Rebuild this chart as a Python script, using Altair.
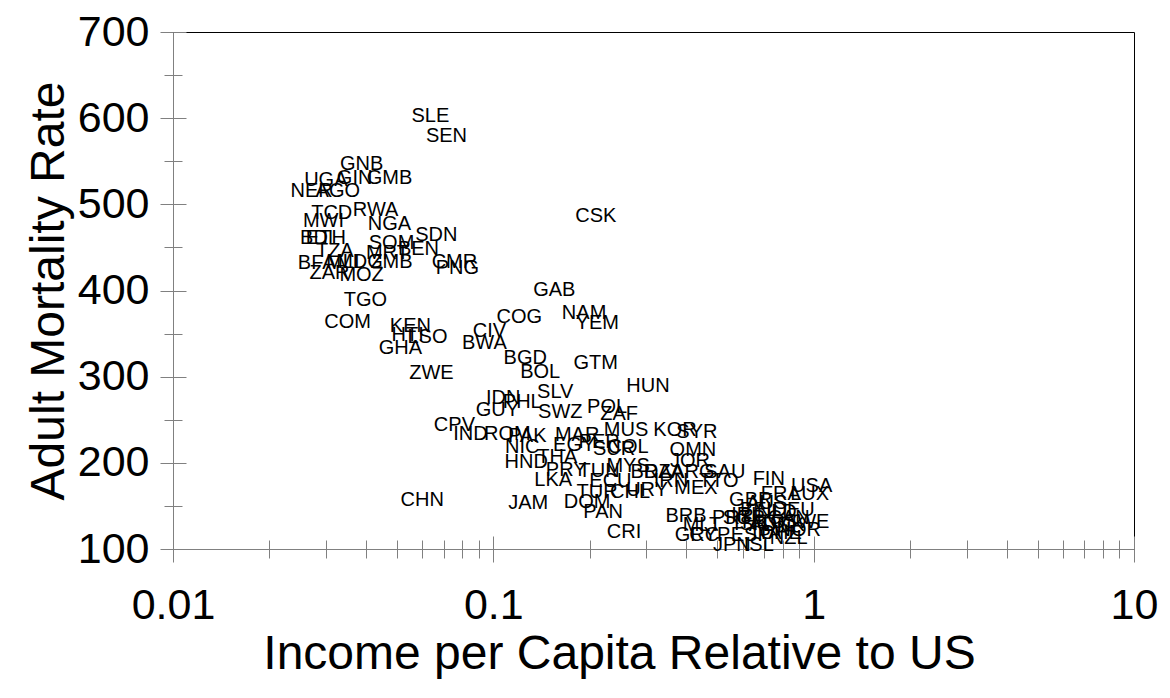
import altair as alt
import pandas as pd

codes = ["SLE","SEN","GNB","UGA","GIN","GMB","NER","AGO","TCD","RWA","MWI","NGA","SDN",
         "BDI","ETH","SOM","BEN","TZA","MRT","BFA","MLI","MDG","ZMB","CMR","PNG","ZAR","MOZ",
         "TGO","COM","KEN","HTI","LSO","GHA","ZWE","CIV","BWA","CSK",
         "GAB","COG","NAM","YEM","BGD","BOL","GTM","HUN","SLV","IDN","PHL","GUY","SWZ","POL","ZAF",
         "CPV","IND","ROM","PAK","MAR","EGY","NIC","HND","THA","PRY","LKA","JAM","DOM","PAN","CRI","CHN",
         "MUS","KOR","SYR","SUR","COL","PER","OMN","JOR","MYS","BRA","DZA","ARG","SAU","TUN",
         "ECU","IRN","TTO","MEX","TUR","CHL","URY","BRB","MLT","GRC","CYP","PRT","SGP","JPN","ISL",
         "FIN","USA","FRA","LUX","GBR","AUS","BEL","DEU","NLD","IRL","CAN","ISR","HKG","AUT","DNK",
         "SWE","NOR","CHE","ITA","ESP","NZL"]

income = [0.0636,0.0714,0.0388,0.0300,0.0369,0.0474,0.0271,0.0327,0.0313,0.0429,0.0295,0.0474,0.0664,
          0.0281,0.0300,0.0481,0.0584,0.0320,0.0467,0.0281,0.0339,0.0382,0.0481,0.0756,0.0772,0.0308,0.0388,
          0.0399,0.0351,0.0551,0.0540,0.0623,0.0513,0.0641,0.0972,0.0938,0.209,
          0.155,0.1205,0.192,0.211,0.1258,0.1401,0.2087,0.304,0.156,0.1074,0.1231,0.1029,0.1618,0.2265,0.247,
          0.0756,0.0848,0.1106,0.1276,0.1827,0.1788,0.1231,0.1267,0.1583,0.1688,0.1538,0.1285,0.1963,0.2202,0.2559,0.0600,
          0.2596,0.369,0.4321,0.2382,0.2634,0.2139,0.4198,0.4109,0.2634,0.3106,0.3409,0.4198,0.5281,0.2139,
          0.232,0.3585,0.5058,0.429,0.2109,0.2672,0.302,0.3993,0.4478,0.4321,0.4742,0.5553,0.6052,0.5553,0.6741,
          0.724,0.9858,0.7893,0.9716,0.6362,0.7139,0.6741,0.8662,0.767,0.6183,0.8357,0.6362,0.6986,0.7242,0.8065,
          0.951,0.8981,0.7893,0.7139,0.6362,0.8357]

mortality = [602.5,579.3,546.8,528.2,530.6,530.6,515.5,515.5,489.9,493.4,480.7,477.2,464.4,
             460.9,460.9,455.1,448.2,445.9,443.5,431.9,433.1,433.0,433.1,433.1,426.1,420.3,418.0,
             389.0,363.5,358.8,348.4,346.0,333.3,304.3,353.0,339.1,486.5,
             400.6,369.0,374.0,362.0,321.7,305.4,316.0,289.0,282.2,275.3,270.6,261.3,259.0,264.8,256.7,
             243.9,233.5,233.5,231.2,232.3,220.7,218.4,201.0,206.8,191.7,180.1,153.4,154.6,143.0,119.8,157.0,
             238.1,238.1,235.8,216.1,218.4,224.0,214.9,202.1,196.4,189.4,189.4,189.4,189.4,190.5,
             179.0,179.0,179.0,170.8,166.2,166.2,168.0,138.3,127.9,116.3,116.3,136.0,136.0,104.7,104.7,
             181.3,173.1,163.9,163.9,156.9,153.4,145.3,145.3,143.0,139.5,136.0,129.0,131.4,127.9,127.9,
             131.4,122.0,118.6,118.6,116.3,112.8]

x_major = [0.01, 0.1, 1, 10]
x_minor = [0.02,0.03,0.04,0.05,0.06,0.07,0.08,0.09,0.2,0.3,0.4,0.5,0.6,0.7,0.8,0.9,2,3,4,5,6,7,8,9]
y_major = [100, 200, 300, 400, 500, 600, 700]
y_minor = [150, 250, 350, 450, 550, 650]

df = pd.DataFrame({"code": codes, "income": income, "mortality": mortality})

FONT = "Liberation Sans"
GREY = "#808080"
xscale = alt.Scale(type="log", domain=[0.01, 10], nice=False)
yscale = alt.Scale(domain=[100, 700], nice=False, zero=False)


def layer(xaxis, yaxis, opacity):
    return alt.Chart(df).mark_text(
        font=FONT, fontSize=20, color="black", opacity=opacity
    ).encode(
        x=alt.X("income:Q", scale=xscale, axis=xaxis),
        y=alt.Y("mortality:Q", scale=yscale, axis=yaxis),
        text="code:N",
    )


main = layer(
    alt.Axis(orient="bottom", values=x_major, format="~g", tickSize=13, tickColor=GREY,
             domainColor=GREY, grid=False, labelFontSize=43, labelFont=FONT, labelColor="black",
             labelPadding=22, labelFlush=False, labelOverlap=False,
             title="Income per Capita Relative to US", titleFontSize=48, titleFont=FONT,
             titleFontWeight="normal", titleColor="black", titlePadding=3, titleX=446),
    alt.Axis(orient="left", values=y_major, tickSize=13, tickColor=GREY, domainColor=GREY,
             grid=False, labelFontSize=43, labelFont=FONT, labelColor="black", labelPadding=11,
             labelFlush=False, labelOverlap=False,
             title="Adult Mortality Rate", titleFontSize=48, titleFont=FONT,
             titleFontWeight="normal", titleColor="black", titlePadding=4),
    1,
)


def tick_axis(orient, vals, size, offset):
    return alt.Axis(orient=orient, values=vals, tickSize=size, tickColor=GREY, offset=offset,
                    domain=False, labels=False, grid=False, title=None)


major_in = layer(tick_axis("bottom", x_major, 13, -13), tick_axis("left", y_major, 13, -13), 0)
minor_out = layer(tick_axis("bottom", x_minor, 9, 0), tick_axis("left", y_minor, 9, 0), 0)
minor_in = layer(tick_axis("bottom", x_minor, 9, -9), tick_axis("left", y_minor, 9, -9), 0)

chart = alt.layer(main, major_in, minor_out, minor_in).resolve_axis(
    x="independent", y="independent"
).properties(
    width=961, height=517,
    autosize=alt.AutoSizeParams(type="none"),
    padding={"left": 165, "top": 24, "right": 28, "bottom": 140},
).configure_view(stroke="black", strokeWidth=1)

chart.save("out.html", embed_options={"renderer": "svg", "actions": False})
